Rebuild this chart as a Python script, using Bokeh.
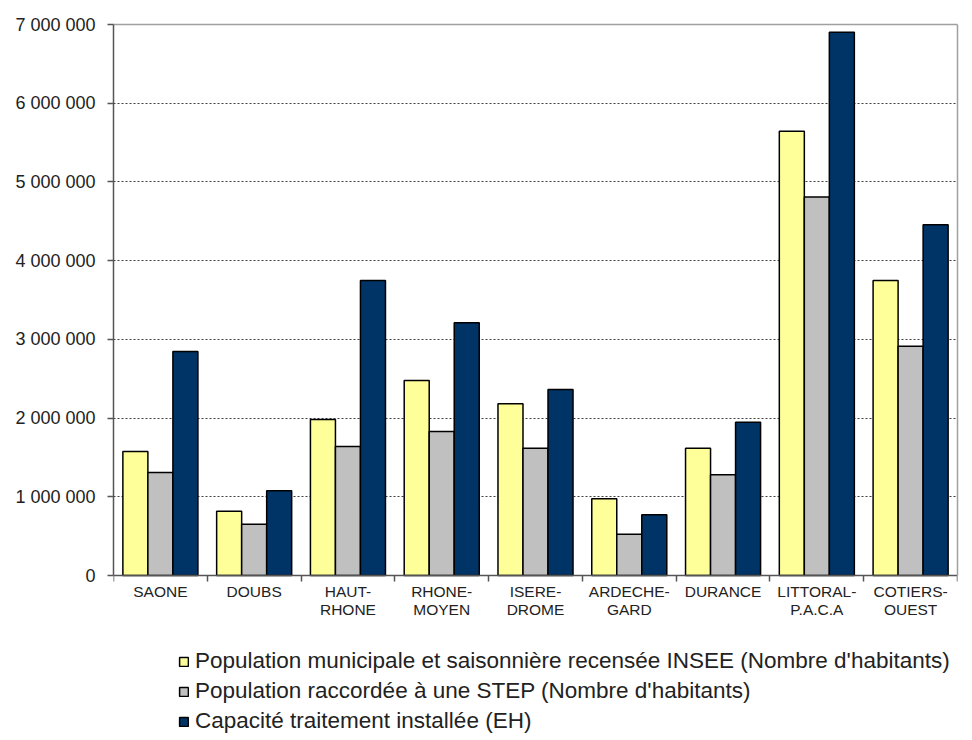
from bokeh.plotting import figure
from bokeh.models import (ColumnDataSource, Range1d, FixedTicker, Legend, LegendItem, LinearAxis)
from bokeh.transform import dodge
from bokeh.embed import file_html
from bokeh.resources import INLINE

categories = ["SAONE", "DOUBS", "HAUT-\nRHONE", "RHONE-\nMOYEN", "ISERE-\nDROME",
              "ARDECHE-\nGARD", "DURANCE", "LITTORAL-\nP.A.C.A", "COTIERS-\nOUEST"]
pop_insee = [1575000, 817000, 1982000, 2478000, 2182000, 974000, 1618000, 5645000, 3748000]
pop_step = [1310000, 652000, 1639000, 1830000, 1618000, 525000, 1279000, 4810000, 2914000]
capacite = [2846000, 1076000, 3748000, 3211000, 2363000, 771000, 1948000, 6900000, 4456000]
series_names = ["Population municipale et saisonnière recensée INSEE (Nombre d'habitants)",
                "Population raccordée à une STEP (Nombre d'habitants)",
                "Capacité traitement installée (EH)"]
y_ticks = [0, 1000000, 2000000, 3000000, 4000000, 5000000, 6000000, 7000000]
y_tick_labels = ["0", "1 000 000", "2 000 000", "3 000 000", "4 000 000",
                 "5 000 000", "6 000 000", "7 000 000"]

colors = ["#FFFF99", "#C0C0C0", "#003366"]
FONT = "Liberation Sans"
AXIS_COLOR = "#555555"
BORDER_COLOR = "#A0A0A0"

Y_MAX = 7000000
# layout (pixels): chart area from y=24 (top) to y=575 (zero line); frame extends below
H, TOP, ZERO_PX, FRAME_BOTTOM = 738, 24, 575, 737
px_per_unit = (ZERO_PX - TOP) / Y_MAX
y_start = -(FRAME_BOTTOM - ZERO_PX) / px_per_unit

centers = [i + 0.5 for i in range(len(categories))]
src = ColumnDataSource(dict(x=centers, a=pop_insee, b=pop_step, c=capacite))

p = figure(width=962, height=H, output_backend="svg", toolbar_location=None,
           x_range=Range1d(0, len(categories)), y_range=Range1d(y_start, Y_MAX),
           min_border_left=113, min_border_right=5, min_border_top=TOP,
           min_border_bottom=H - FRAME_BOTTOM, x_axis_location=None, y_axis_location=None)
p.background_fill_color = "white"
p.border_fill_color = "white"
p.outline_line_color = None

bw = 0.2667
renderers = []
for off, col, color in zip([-bw, 0, bw], ["a", "b", "c"], colors):
    r = p.vbar(x=dodge("x", off, range=p.x_range), top=col, width=bw, bottom=0,
               source=src, fill_color=color, line_color="black", line_width=1.5)
    renderers.append(r)

# X axis at the zero line
xax = LinearAxis(fixed_location=0)
xax.ticker = FixedTicker(ticks=centers, minor_ticks=list(range(len(categories) + 1)))
xax.major_label_overrides = {c: lab for c, lab in zip(centers, categories)}
xax.major_tick_out = 0
xax.major_tick_in = 0
xax.minor_tick_out = 6
xax.minor_tick_in = 0
xax.minor_tick_line_color = AXIS_COLOR
xax.minor_tick_line_width = 1.5
xax.axis_line_color = AXIS_COLOR
xax.axis_line_width = 1.5
xax.major_label_standoff = 1
xax.major_label_text_font = FONT
xax.major_label_text_font_size = "15.5px"
xax.major_label_text_color = "#222222"
xax.major_label_text_line_height = 1.1
p.add_layout(xax, "below")

# Top border
top_ax = LinearAxis(ticker=FixedTicker(ticks=[], minor_ticks=[]))
top_ax.axis_line_color = BORDER_COLOR
top_ax.axis_line_width = 1.5
top_ax.major_tick_line_color = None
top_ax.minor_tick_line_color = None
top_ax.major_label_text_font_size = "0px"
p.add_layout(top_ax, "above")

# Y axis
yax = LinearAxis(bounds=(0, Y_MAX))
yax.ticker = FixedTicker(ticks=y_ticks, minor_ticks=[])
yax.major_label_overrides = {t: lab for t, lab in zip(y_ticks, y_tick_labels)}
yax.major_tick_out = 6
yax.major_tick_in = 0
yax.major_tick_line_color = AXIS_COLOR
yax.major_tick_line_width = 1.5
yax.minor_tick_line_color = None
yax.axis_line_color = AXIS_COLOR
yax.axis_line_width = 1.5
yax.major_label_standoff = 12
yax.major_label_text_font = FONT
yax.major_label_text_font_size = "18px"
yax.major_label_text_color = "#222222"
p.add_layout(yax, "left")

# Right border
right_ax = LinearAxis(bounds=(0, Y_MAX), ticker=FixedTicker(ticks=[], minor_ticks=[]))
right_ax.axis_line_color = BORDER_COLOR
right_ax.axis_line_width = 1.5
right_ax.major_tick_line_color = None
right_ax.minor_tick_line_color = None
right_ax.major_label_text_font_size = "0px"
p.add_layout(right_ax, "right")

p.xgrid.grid_line_color = None
p.ygrid.ticker = FixedTicker(ticks=y_ticks[1:-1], minor_ticks=[])
p.ygrid.grid_line_color = "#404040"
p.ygrid.grid_line_dash = "2 2"
p.ygrid.grid_line_width = 1

legend = Legend(items=[LegendItem(label=n, renderers=[r]) for n, r in zip(series_names, renderers)],
                location=(65, 1), orientation="vertical")
legend.border_line_color = None
legend.background_fill_alpha = 0
legend.padding = 0
legend.margin = 0
legend.spacing = 0
legend.label_height = 30
legend.glyph_height = 11
legend.glyph_width = 11
legend.label_standoff = 6
legend.label_text_font = FONT
legend.label_text_font_size = "22.5px"
legend.label_text_color = "#222222"
p.add_layout(legend, "center")

open("out.html", "w").write(file_html(p, INLINE))
